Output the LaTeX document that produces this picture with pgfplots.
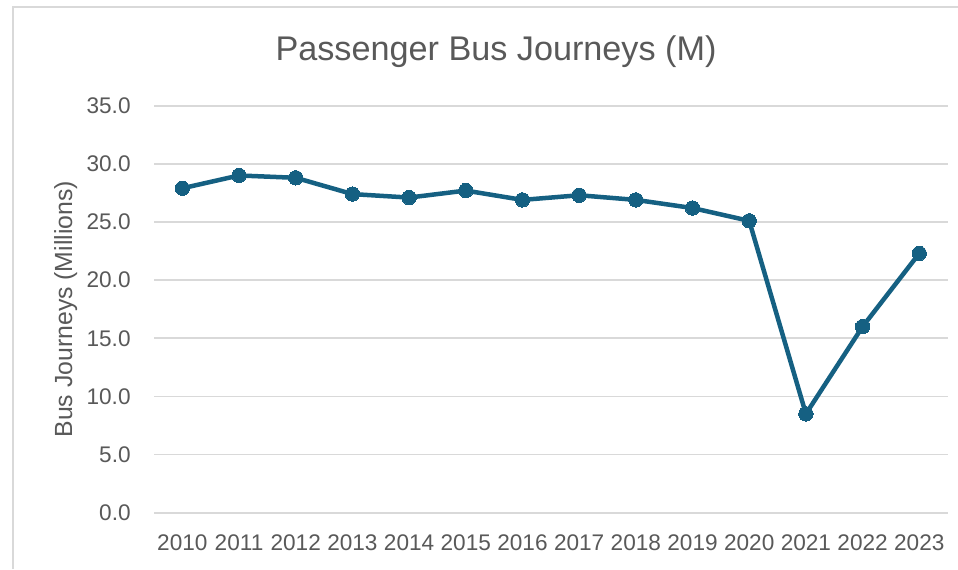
\documentclass[border=0pt]{standalone}
\usepackage{fontspec}
\setmainfont{Liberation Sans}
\usepackage{pgfplots}
\pgfplotsset{compat=1.18}
\definecolor{linec}{HTML}{156082}
\definecolor{gridc}{HTML}{D9D9D9}
\definecolor{txtc}{HTML}{595959}
\begin{document}
\begin{tikzpicture}
\path[use as bounding box,fill=white] (0pt,0pt) rectangle (479pt,284.5pt);
\draw[gridc,line width=0.9pt] (6.5pt,0pt) -- (6.5pt,281pt) -- (479pt,281pt);
\begin{axis}[
  at={(77pt,28.15pt)}, anchor=south west,
  scale only axis, width=396.8pt, height=203.5pt,
  xmin=-0.5, xmax=13.5, ymin=0, ymax=35,
  axis line style={draw=none},
  xtick={0,...,13},
  xticklabels={2010,2011,2012,2013,2014,2015,2016,2017,2018,2019,2020,2021,2022,2023},
  ytick={0,5,...,35},
  major tick length=0pt,
  ymajorgrids, grid style={gridc,line width=0.9pt},
  /pgf/number format/assume math mode=true,
  yticklabel={\pgfmathprintnumber[fixed,fixed zerofill,precision=1]{\tick}},
  ticklabel style={font=\fontsize{11.3}{13}\selectfont, text=txtc},
  yticklabel style={anchor=east, inner sep=0pt, xshift=-11.5pt},
  xticklabel style={anchor=north, inner sep=0pt, yshift=-11pt},
  title={Passenger Bus Journeys (M)},
  title style={at={(axis description cs:0.431,1.1074)}, anchor=base, inner sep=0pt, yshift=-5.5pt, font=\fontsize{17.1}{20}\selectfont, text=txtc},
  ylabel={Bus Journeys (Millions)},
  y label style={at={(axis description cs:-0.1033,0.5)}, anchor=base, inner sep=0pt, font=\fontsize{12.4}{15}\selectfont, text=txtc},
  clip=false,
]
\addplot[linec, line width=2.25pt, mark=*, mark size=3.6pt, mark options={fill=linec,draw=linec,line width=0pt}] coordinates {
(0,27.9) (1,29.0) (2,28.8) (3,27.4) (4,27.1) (5,27.7) (6,26.9) (7,27.3) (8,26.9) (9,26.2) (10,25.1) (11,8.5) (12,16.0) (13,22.3)
};
\end{axis}
\end{tikzpicture}
\end{document}
